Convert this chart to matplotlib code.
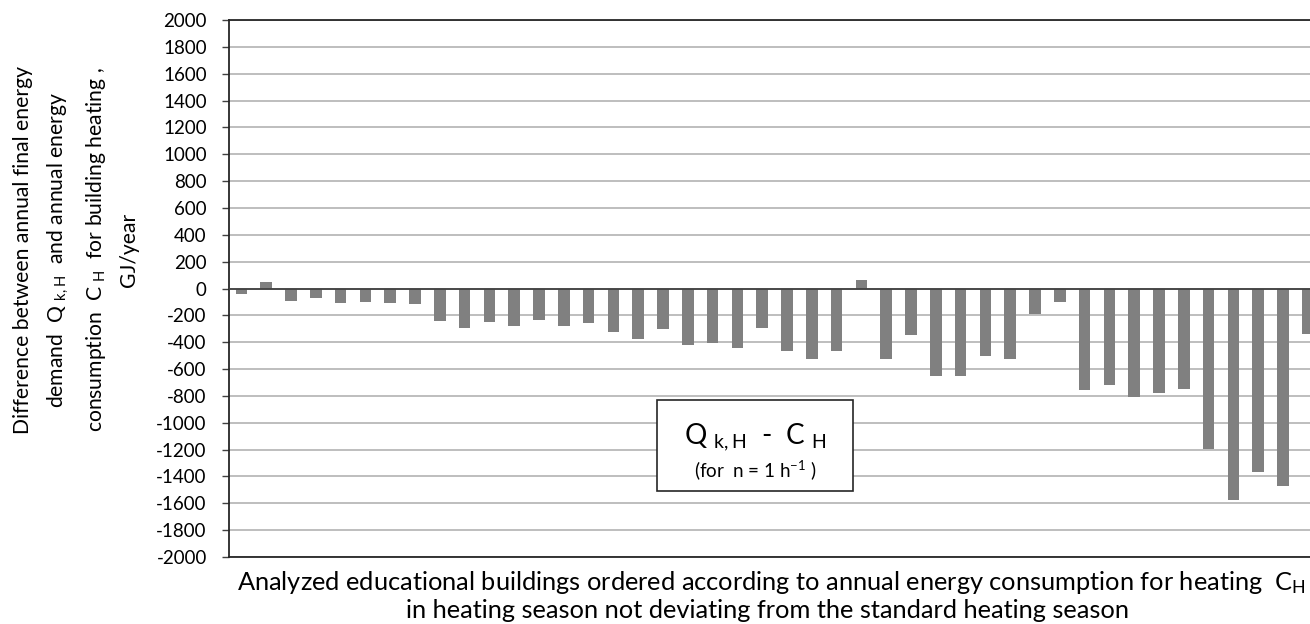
import matplotlib
matplotlib.use("Agg")
import matplotlib.pyplot as plt
from matplotlib.patches import Rectangle
import numpy as np

plt.rcParams['font.family'] = ['Lato', 'DejaVu Sans']
plt.rcParams['mathtext.fontset'] = 'custom'
plt.rcParams['mathtext.rm'] = 'Lato'

# buildings, ordered by annual energy consumption for heating
differences = [-38, 52, -90, -72, -107, -100, -107, -115, -242, -295,
               -250, -277, -231, -276, -259, -326, -376, -301, -420, -403,
               -445, -294, -467, -526, -467, 60, -526, -350, -653, -653,
               -501, -526, -189, -104, -757, -722, -805, -780, -745, -1192,
               -1572, -1370, -1471, -342]
yticks = list(range(-2000, 2001, 200))

W, H = 1310, 624
fig = plt.figure(figsize=(W / 100, H / 100), dpi=100)

n = len(differences)
cat_px = 24.8
ax = fig.add_axes([229 / W, 67 / H, n * cat_px / W, 537 / H])

x = np.arange(n)
ax.bar(x, differences, width=0.47, color='#808080', zorder=3)
ax.set_xlim(-0.5, n - 0.5)
ax.set_ylim(-2000, 2000)
ax.set_yticks(yticks)
ax.set_yticklabels([str(v) for v in yticks], fontsize=13.5)
ax.set_xticks([])
ax.tick_params(axis='y', direction='out', length=5, width=1, color='#404040', pad=11)
ax.yaxis.grid(True, color='#b3b3b3', linewidth=1.2, zorder=0)
ax.axhline(0, color='#404040', linewidth=1.3, zorder=4)
for side in ['left', 'bottom', 'top']:
    ax.spines[side].set_color('#262626')
    ax.spines[side].set_linewidth(1.3)
ax.spines['right'].set_visible(False)

# y axis title
ylab = ("Difference between annual final energy\n"
        "demand  Q $\\mathregular{_{k,H}}$  and annual energy\n"
        "consumption  C $\\mathregular{_{H}}$  for building heating ,\n"
        "GJ/year")
fig.text(76 / W, 1 - 250 / H, ylab, rotation=90, ha='center', va='center',
         multialignment='center', fontsize=15.2, linespacing=1.7)

# x axis title
fig.text(771 / W, 1 - 583 / H,
         "Analyzed educational buildings ordered according to annual energy consumption for heating  C$\\mathregular{_{H}}$",
         ha='center', va='center', fontsize=18.3)
fig.text(768 / W, 1 - 611 / H,
         "in heating season not deviating from the standard heating season",
         ha='center', va='center', fontsize=18.3)

# boxed annotation
box = Rectangle((657 / W, 1 - 491 / H), 196 / W, 91 / H, transform=fig.transFigure,
                facecolor='white', edgecolor='#262626', linewidth=1.2, zorder=5)
fig.patches.append(box)
fig.text(755 / W, 1 - 437 / H, "Q $\\mathregular{_{k,H}}$  -  C $\\mathregular{_{H}}$",
         ha='center', va='center', fontsize=20, zorder=6)
fig.text(755 / W, 1 - 470 / H, "(for  n = 1 h$\\mathregular{^{-1}}$ )",
         ha='center', va='center', fontsize=13.5, zorder=6)

fig.savefig("out.png", dpi=100)
